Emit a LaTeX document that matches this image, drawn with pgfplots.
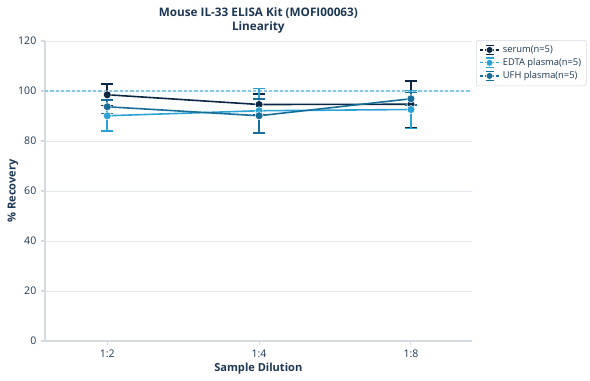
\documentclass[border=0pt]{standalone}
\usepackage{fontspec}
\setmainfont{Open Sans}
\usepackage{pgfplots}
\pgfplotsset{compat=1.18}
\definecolor{txt}{HTML}{1C3754}
\definecolor{serum}{HTML}{0B2745}
\definecolor{edta}{HTML}{2AA3D4}
\definecolor{ufh}{HTML}{176E98}
\definecolor{gridc}{HTML}{E3E8EE}
\definecolor{axc}{HTML}{D3DAE2}
\definecolor{reflc}{HTML}{86C9E6}
\begin{document}
\begin{tikzpicture}[x=1pt,y=1pt]
\pgfplotsset{
  lg/.style={legend image code/.code={
    \draw[##1,line width=1pt,dash pattern=on 2.5pt off 1.5pt] (0pt,0pt) -- (15pt,0pt);
    \draw[##1,line width=1pt] (7.5pt,-3.5pt) -- (7.5pt,3.5pt);
    \draw[##1,line width=1pt] (4.5pt,3.5pt) -- (10.5pt,3.5pt);
    \draw[##1,line width=1pt] (4.5pt,-3.5pt) -- (10.5pt,-3.5pt);
    \fill[##1,draw=white,line width=0.4pt] (7.5pt,0pt) circle (2.6pt);
  }},
}
\begin{axis}[
  scale only axis, width=320pt, height=225pt,
  at={(0,0)}, anchor=south west,
  xmin=-0.41, xmax=2.40, ymin=0, ymax=120,
  xtick={0,1,2}, xticklabels={1:2,1:4,1:8},
  ytick={0,20,40,60,80,100,120},
  ymajorgrids, grid style={gridc, line width=0.6pt},
  axis x line*=bottom, axis y line*=left,
  axis line style={axc, line width=0.8pt},
  every tick/.style={axc, line width=0.8pt},
  major tick length=3pt,
  xtick style={draw=axc}, ytick style={draw=axc},
  tick align=outside,
  tick label style={font=\fontsize{7.9}{9}\selectfont, text=txt},
  /pgf/number format/assume math mode=true,
  xlabel={Sample Dilution}, ylabel={\% Recovery},
  label style={font=\fontsize{8.3}{10}\selectfont\bfseries, text=txt},
  xlabel style={yshift=3pt},
  ylabel style={yshift=-7pt},
  title={Mouse IL-33 ELISA Kit (MOFI00063)\\Linearity},
  title style={font=\fontsize{8.8}{10.5}\selectfont\bfseries, text=txt, align=center, yshift=-4pt},
  clip=false,
  legend style={at={(323.25pt,225.75pt)}, anchor=north west, draw=axc, rounded corners=2pt,
    font=\fontsize{7}{8.5}\selectfont, text=txt, row sep=-1pt, inner sep=2pt},
  legend cell align=left,
  lg,
]
\addplot[color=reflc, line width=0.8pt, dash pattern=on 2.5pt off 1.5pt, mark=none, forget plot]
  coordinates {(-0.41,100) (2.40,100)};
\addplot[serum, line width=1.2pt, mark=*, mark size=3pt, mark options={draw=white, line width=0.4pt, fill=serum},
  error bars/.cd, y dir=both, y explicit, error bar style={line width=1.2pt, serum},
  error mark options={rotate=90, mark size=4.5pt, line width=1.2pt, serum}]
  table[x=x, y=y, y error=e] {
x y e
0 98.5 4.3
1 94.6 4.1
2 94.7 9.3
};
\addlegendentry{serum(n=5)}
\addplot[edta, line width=1.2pt, mark=*, mark size=3pt, mark options={draw=white, line width=0.4pt, fill=edta},
  error bars/.cd, y dir=both, y explicit, error bar style={line width=1.2pt, edta},
  error mark options={rotate=90, mark size=4.5pt, line width=1.2pt, edta}]
  table[x=x, y=y, y error=e] {
x y e
0 90.1 6.1
1 92.1 8.9
2 92.6 7.6
};
\addlegendentry{EDTA plasma(n=5)}
\addplot[ufh, line width=1.2pt, mark=*, mark size=3pt, mark options={draw=white, line width=0.4pt, fill=ufh},
  error bars/.cd, y dir=both, y explicit, error bar style={line width=1.2pt, ufh},
  error mark options={rotate=90, mark size=4.5pt, line width=1.2pt, ufh}]
  table[x=x, y=y, y error=e] {
x y e
0 93.7 2.7
1 90.1 6.8
2 96.9 2.5
};
\addlegendentry{UFH plasma(n=5)}
\end{axis}
\pgfresetboundingbox
\useasboundingbox (-33.75,-29.25) rectangle (408.75,255.75);
\end{tikzpicture}
\end{document}
